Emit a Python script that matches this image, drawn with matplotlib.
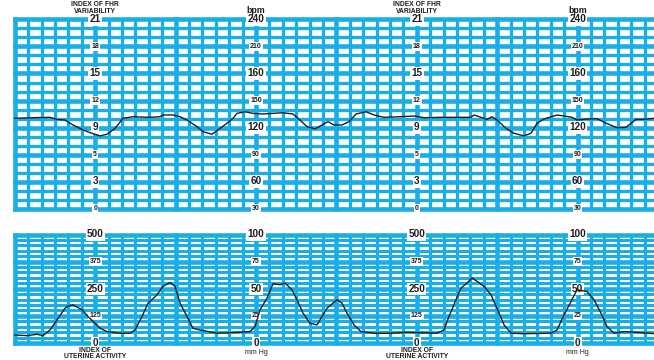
import matplotlib
matplotlib.use('Agg')
import matplotlib.pyplot as plt
import numpy as np

plt.rcParams['font.family'] = ['Liberation Sans', 'DejaVu Sans']

# ---------------- data (time in minutes) ----------------
fhr_time = [0.0, 0.226, 0.438, 0.525, 0.624, 0.724, 0.848, 0.935, 1.06, 1.147,
            1.246, 1.346, 1.47, 1.682, 1.806, 1.843, 1.968, 2.055, 2.142, 2.266,
            2.341, 2.453, 2.552, 2.639, 2.714, 2.764, 2.863, 2.963, 3.087, 3.211,
            3.336, 3.46, 3.547, 3.634, 3.734, 3.821, 3.896, 3.97, 4.07, 4.157,
            4.244, 4.368, 4.468, 4.592, 4.803, 4.965, 5.09, 5.301, 5.674, 5.711,
            5.799, 5.873, 5.935, 5.998, 6.11, 6.209, 6.333, 6.42, 6.495, 6.582,
            6.744, 6.831, 6.93, 6.993, 7.117, 7.241, 7.366, 7.49, 7.602, 7.726,
            7.826, 7.95]
fhr_bpm = [130.2, 130.9, 131.3, 129.0, 128.3, 122.8, 117.3, 114.3, 110.7, 112.5,
           119.0, 130.2, 132.0, 131.3, 132.0, 133.9, 133.9, 132.0, 128.3, 121.0,
           115.4, 112.5, 119.0, 124.7, 130.2, 135.7, 137.5, 135.7, 135.0, 135.7,
           136.4, 135.0, 128.3, 121.0, 118.4, 122.8, 126.5, 122.8, 122.8, 126.5,
           135.0, 137.5, 133.9, 131.3, 132.0, 132.8, 130.9, 131.3, 131.3, 133.9,
           131.3, 129.0, 132.0, 128.3, 119.0, 113.6, 110.7, 113.6, 124.7, 129.4,
           133.9, 132.8, 131.3, 128.3, 129.4, 129.8, 124.4, 119.8, 120.2, 129.0,
           129.0, 130.2]

ua_time = [0.0, 0.152, 0.276, 0.351, 0.438, 0.525, 0.624, 0.662, 0.724, 0.836,
           0.91, 0.998, 1.06, 1.147, 1.308, 1.433, 1.495, 1.582, 1.657, 1.769,
           1.843, 1.93, 1.993, 2.055, 2.142, 2.216, 2.303, 2.515, 2.714, 2.925,
           2.988, 3.05, 3.137, 3.211, 3.299, 3.361, 3.448, 3.51, 3.585, 3.672,
           3.759, 3.821, 3.883, 3.933, 4.007, 4.07, 4.132, 4.219, 4.306, 4.468,
           4.679, 4.878, 5.251, 5.338, 5.4, 5.488, 5.55, 5.624, 5.687, 5.749,
           5.836, 5.923, 5.998, 6.085, 6.172, 6.333, 6.669, 6.744, 6.831, 6.918,
           6.993, 7.117, 7.204, 7.291, 7.366, 7.453, 7.577, 7.789, 7.95]
ua_mmhg = [7.4, 6.8, 8.0, 6.8, 12.0, 21.3, 32.0, 34.0, 35.2, 30.6,
           24.4, 18.2, 13.6, 10.5, 9.0, 9.0, 12.0, 24.4, 36.7, 44.4,
           52.2, 55.9, 52.2, 36.7, 24.4, 13.6, 12.0, 9.0, 9.6, 10.5,
           15.1, 30.6, 41.3, 54.6, 53.7, 55.3, 49.0, 39.8, 27.5, 18.2,
           16.7, 24.4, 32.0, 35.2, 39.8, 36.7, 27.5, 16.7, 10.5, 9.0,
           9.0, 9.9, 9.0, 12.0, 24.4, 39.8, 50.6, 55.3, 59.9, 56.8,
           52.2, 44.4, 32.0, 16.7, 9.0, 8.6, 9.0, 12.0, 25.9, 38.2,
           49.0, 47.5, 39.8, 27.5, 15.1, 9.0, 10.5, 9.6, 8.6]

fhr_ticks = [30, 60, 90, 120, 150, 180, 210, 240]
fhr_bpm_labels = ['30', '60', '90', '120', '150', '160', '210', '240']
fhr_index_labels = ['0', '3', '5', '9', '12', '15', '18', '21']
ua_ticks = [0, 25, 50, 75, 100]
ua_index_labels = ['0', '125', '250', '375', '500']
ua_mmhg_labels = ['0', '25', '50', '75', '100']
index_cols = [1, 5]
unit_cols = [3, 7]

# ---------------- styling ----------------
BLUE = '#1aaee8'
INK = '#1e1e1e'
PT = 0.72  # points per pixel at dpi 100
W, H = 654, 360
PX_PER_MIN = 80.4
X0 = 14.8

fig = plt.figure(figsize=(W / 100, H / 100), dpi=100)


def px_axes(y_top, y_bot):
    return fig.add_axes([X0 / W, 1 - y_bot / H, (W - X0) / W, (y_bot - y_top) / H])


tmax = (W - X0) / PX_PER_MIN
ax1 = px_axes(19.5, 208.5)
ax1.set_xlim(0, tmax)
ax1.set_ylim(30, 240)
ax2 = px_axes(234.5, 343)
ax2.set_xlim(0, tmax)
ax2.set_ylim(0, 100)
for ax in (ax1, ax2):
    ax.axis('off')


def draw_grid(ax, y0, y1, ystep, ymajor, hminor_px):
    ts = np.arange(0, tmax + 0.2, 1 / 6)
    for i, t in enumerate(ts):
        major = i % 6 == 0
        ax.plot([t, t], [y0, y1], color=BLUE,
                lw=(4.6 if major else 3.2) * PT,
                solid_capstyle='projecting' if major else 'butt',
                clip_on=False, zorder=1)
    ys = np.arange(y0, y1 + 1e-9, ystep)
    for y in ys:
        major = abs(((y - y0) / ymajor) - round((y - y0) / ymajor)) < 1e-6
        ax.plot([0, tmax + 0.3], [y, y], color=BLUE,
                lw=(4.6 if major else hminor_px) * PT,
                solid_capstyle='projecting' if major else 'butt',
                clip_on=False, zorder=1)


draw_grid(ax1, 30, 240, 10, 30, 3.3)
draw_grid(ax2, 0, 100, 5, 25, 3.0)

box = dict(boxstyle='square,pad=0.12', fc='white', ec='none')


def put_labels(ax, cols, ticks, labels, big_parity):
    for c in cols:
        for i, (v, lab) in enumerate(zip(ticks, labels)):
            big = (i % 2) == big_parity
            ax.text(c, v, lab, ha='center', va='center',
                    fontsize=7.2 if big else 5.0, weight='bold', color=INK,
                    bbox=box, zorder=3, clip_on=False)


put_labels(ax1, index_cols, fhr_ticks, fhr_index_labels, 1)
put_labels(ax1, unit_cols, fhr_ticks, fhr_bpm_labels, 1)
put_labels(ax2, index_cols, ua_ticks, ua_index_labels, 0)
put_labels(ax2, unit_cols, ua_ticks, ua_mmhg_labels, 0)

for c in index_cols:
    ax1.text(c, 252.6, 'INDEX OF FHR\nVARIABILITY', ha='center', va='center',
             fontsize=4.9, weight='bold', color=INK, linespacing=0.9, clip_on=False)
    ax2.text(c, -9.8, 'INDEX OF\nUTERINE ACTIVITY', ha='center', va='center',
             fontsize=4.9, weight='bold', color=INK, linespacing=0.9, clip_on=False)
for c in unit_cols:
    ax1.text(c, 250.5, 'bpm', ha='center', va='center',
             fontsize=6.4, weight='bold', color=INK, clip_on=False)
    ax2.text(c, -8.3, 'mm Hg', ha='center', va='center',
             fontsize=5.0, color=INK, clip_on=False)

ax1.plot(fhr_time, fhr_bpm, color=INK, lw=1.0, zorder=4, clip_on=False)
ax2.plot(ua_time, ua_mmhg, color=INK, lw=1.0, zorder=4, clip_on=False)

fig.savefig('out.png', dpi=100)
